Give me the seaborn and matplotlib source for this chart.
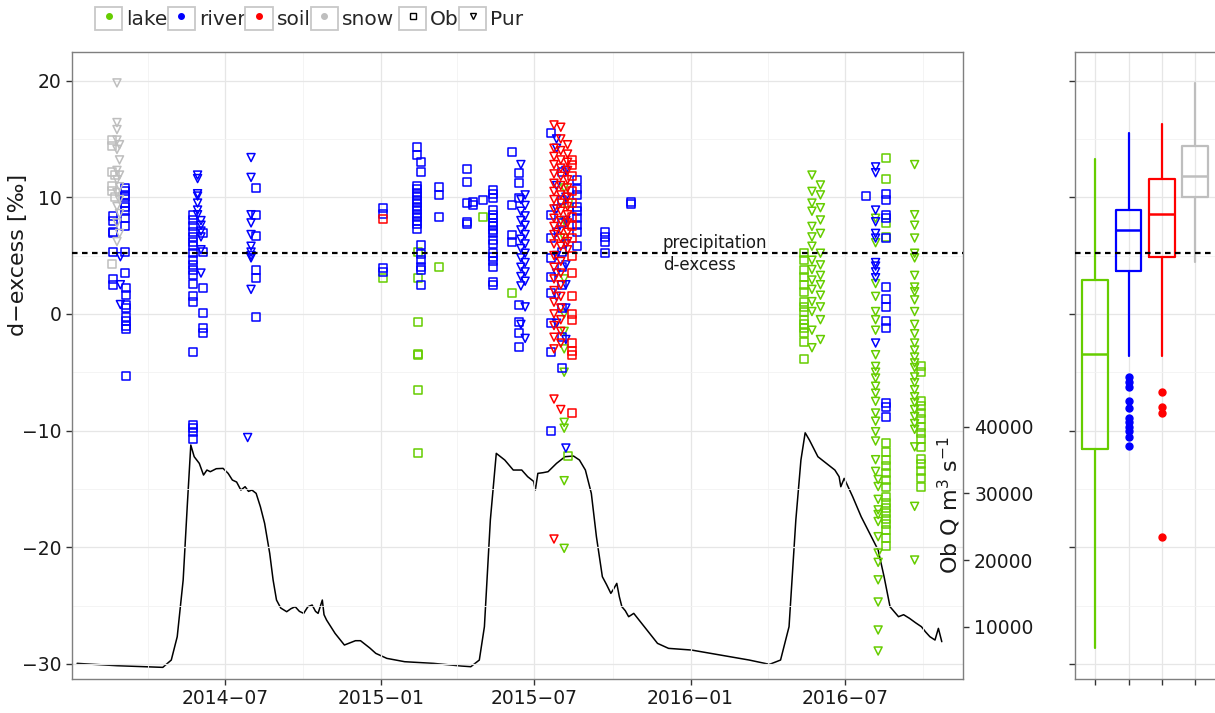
import numpy as np
import pandas as pd
import matplotlib
matplotlib.use("Agg")
import matplotlib.pyplot as plt
import matplotlib.dates as mdates
import matplotlib.transforms as mtransforms
from matplotlib.lines import Line2D
from matplotlib.patches import Rectangle
from matplotlib.legend_handler import HandlerTuple
import seaborn as sns

sns.set_theme(style="white")
plt.rcParams['font.family'] = ['DejaVu Sans']

# ---------------- data ----------------
type_order = ["lake", "river", "soil", "snow"]
site_order = ["Ob", "Pur"]

snow_pur = {
    "2014-02-24": [19.8, 16.4, 15.8, 14.9, 14.1, 12.3, 11.5, 10.4, 9.2, 7.8, 6.2],
    "2014-02-27": [14.5, 13.2, 11.9, 10.9, 9.8, 8.6, 6.9],
}
snow_ob = {
    "2014-02-18": [14.9, 14.4, 12.2, 11.0, 10.5, 4.3],
    "2014-02-22": [11.9, 10.0],
}
river_ob = {
    "2014-02-19": [8.4, 8.0, 7.0, 6.9, 5.3, 3.0, 2.5],
    "2014-03-05": [10.8, 10.5, 10.2, 10.0, 9.5, 9.2, 8.8, 8.2, 7.5, 5.3, 3.5],
    "2014-03-07": [2.2, 1.6, 0.8, 0.5, -0.3, -0.6, -1.0, -1.3, -5.3],
    "2014-05-25": [8.5, 8.05, 7.5, 7.05, 6.6, 6.2, 5.8, 5.2, 4.6, 4.2, 3.8, 3.3, 2.6,
                   1.5, 1.05, -3.3, -9.5, -9.8, -10.1, -10.7],
    "2014-06-05": [6.9, 5.3, 2.2, 0.1, -1.2, -1.6],
    "2014-08-07": [10.8, 8.5, 6.7, 3.8, 3.1, -0.3],
    "2015-01-03": [9.1, 8.6, 3.9, 3.6],
    "2015-02-12": [14.3, 13.6, 11.0, 10.7, 10.4, 10.1, 9.8, 9.5, 9.2, 8.9, 8.6, 8.3, 8.0, 7.7, 7.3],
    "2015-02-17": [13.0, 12.2, 5.9, 5.1, 4.6, 4.0, 3.8, 2.5],
    "2015-03-10": [10.9, 10.2, 8.3],
    "2015-04-13": [12.4, 11.3, 9.5, 7.9, 7.7],
    "2015-04-20": [9.6, 9.3],
    "2015-05-01": [9.8],
    "2015-05-13": [10.6, 10.3, 9.9, 8.9, 8.5, 8.2, 7.8, 7.5, 7.2, 6.9, 6.3, 6.0, 5.2, 4.9,
                   4.5, 4.0, 2.7, 2.5],
    "2015-06-04": [13.9, 9.3, 6.8, 6.2],
    "2015-06-13": [12.1, 11.2, 9.9, 0.8, -0.7, -1.6, -2.8],
    "2015-07-20": [15.5, 8.5, 6.5, 4.8, 3.2, 1.8, -0.8, -3.3, -10.0],
    "2015-08-02": [12.2, 9.8, 7.8, 5.3, 4.0, 2.5, 0.5, -2.0, -4.6],
    "2015-08-20": [11.5, 10.7, 10.2, 9.2, 8.8, 8.2, 7.6, 7.0, 5.8],
    "2015-09-22": [7.0, 6.6, 6.2, 5.2],
    "2015-10-23": [9.6, 9.4],
    "2016-07-26": [10.1],
    "2016-08-18": [10.3, 9.8, 8.5, 8.2, 6.5, 2.3, 1.3, 0.6, -0.6, -1.2, -7.6, -8.0, -8.8],
}
river_pur = {
    "2014-02-28": [4.9, 2.5, 0.8],
    "2014-05-30": [11.9, 11.6, 10.3, 10.1, 9.5, 8.9, 8.5],
    "2014-06-03": [8.0, 7.6, 7.1, 6.6, 5.5, 3.5],
    "2014-07-28": [-10.6],
    "2014-08-01": [13.4, 11.7, 8.5, 7.8, 6.8, 5.8, 5.3, 5.0, 4.8, 2.1],
    "2015-06-15": [12.8, 9.8, 8.8, 8.0, 7.2, 6.4, 5.6, 4.8, 4.0, 3.2, 2.4, -0.9],
    "2015-06-20": [10.2, 9.3, 8.4, 7.6, 6.8, 6.0, 5.2, 4.4, 3.6, 2.8, 0.6, -2.1],
    "2015-07-27": [15.0, 14.2, 11.0, 9.0, 7.0, 5.0, 3.5, 1.5, -0.8],
    "2015-08-07": [12.3, 10.0, 8.0, 6.0, 4.2, 2.5, 0.5, -2.2, -11.5],
    "2016-08-06": [12.6, 12.1, 8.9, 7.9, 6.9, 6.5, 4.4, 4.1, 3.6, 3.1, -2.5],
}
soil_ob = {
    "2015-01-03": [8.1],
    "2015-08-14": [13.2, 12.8, 11.8, 10.5, 9.5, 8.3, 7.5, 6.5, 5.0, 3.5, 1.5, 0.0, -0.5,
                   -2.5, -3.2, -3.5, -8.5],
}
soil_pur = {
    "2015-07-24": [16.2, 14.2, 13.5, 12.8, 12.0, 11.2, 10.5, 9.8, 9.0, 8.2, 7.5, 6.8, 6.0,
                   5.0, 4.0, 3.0, 2.0, 1.0, 0.0, -1.0, -2.0, -3.0, -7.3, -19.3],
    "2015-08-01": [16.0, 15.0, 14.0, 13.2, 12.5, 11.8, 11.0, 10.2, 9.5, 8.8, 8.0, 7.2, 6.5,
                   5.8, 4.5, 3.5, 2.5, 1.5, 0.5, -0.5, -1.5, -2.5, -8.2],
    "2015-08-09": [14.5, 13.7, 13.0, 12.3, 11.5, 10.8, 10.0, 9.2, 8.5, 7.8, 7.0, 6.2, 5.5],
}
lake_ob = {
    "2015-01-03": [3.1],
    "2015-02-14": [5.3, 3.1, -0.7, -3.4, -3.5, -6.5, -11.9],
    "2015-03-10": [4.0],
    "2015-05-01": [8.3],
    "2015-06-04": [1.8],
    "2015-08-10": [9.5, -12.2],
    "2016-05-14": [5.2, 4.6, 3.8, 3.2, 2.5, 1.9, 1.05, 0.6, 0.2, -0.5, -0.9, -1.2, -1.6,
                   -2.4, -3.9],
    "2016-08-18": [13.4, 11.6, 7.8, 6.6, -11.1, -11.8, -12.5, -13.0, -13.6, -14.2, -14.8,
                   -15.7, -16.2, -16.6, -17.1, -17.6, -18.0, -18.5, -19.2, -19.9],
    "2016-09-29": [-4.5, -5.0, -7.5, -7.9, -8.5, -9.0, -9.7, -10.2, -10.7, -11.4, -12.4,
                   -12.9, -13.5, -14.1, -14.8],
}
lake_pur = {
    "2015-08-05": [10.8, 8.0, 6.5, 3.0, 0.0, -1.5, -3.0, -5.0, -9.3, -9.8, -14.3, -20.1],
    "2016-05-23": [11.9, 10.5, 9.5, 8.8, 7.5, 6.6, 5.8, 4.6, 3.8, 2.9, 2.1, 1.05, 0.2, -1.4, -2.9],
    "2016-06-02": [11.05, 10.2, 9.1, 8.05, 6.9, 5.2, 4.2, 3.3, 2.5, 1.6, 0.6, -0.5, -2.2],
    "2016-08-06": [8.2, 6.1, 2.6, 1.5, 0.2, -0.5, -1.4, -3.5, -4.5, -5.0, -5.5, -6.2, -6.8,
                   -7.5, -8.5, -9.2, -10.1, -10.9, -12.5, -13.5],
    "2016-08-09": [-14.2, -14.8, -15.9, -16.8, -17.2, -17.8, -19.1, -20.5, -21.3, -22.8,
                   -24.7, -27.1, -28.9],
    "2016-09-21": [12.8, 8.5, 7.6, 6.5, 5.2, 4.8, 3.3, 2.3, 1.9, 1.2, 0.2, -0.9, -1.7, -2.5,
                   -3.1, -3.7, -4.2, -4.6, -5.4, -5.9, -6.5, -7.1, -7.6, -8.2, -8.8, -9.4,
                   -9.9, -11.4, -16.5, -21.1],
}

# Ob river discharge (days after 2014-07-01, m3/s)
q_day = [-174, -127, -73, -63, -56, -49, -44, -40, -36, -30, -25, -21, -17, -10, -2, 4, 9,
         14, 19, 24, 28, 32, 37, 42, 47, 53, 57, 61, 66, 73, 78, 83, 88, 93, 98, 103, 107,
         110, 113, 115, 117, 120, 130, 141, 148, 154, 160, 164, 171, 178, 191, 212, 246, 279,
         290, 300, 306, 313, 320, 330, 340, 350, 357, 364, 366, 369, 375, 381, 391, 401, 411,
         418, 425, 432, 438, 445, 450, 455, 458, 462, 465, 468, 472, 476, 482, 496, 510, 523,
         550, 584, 618, 642, 655, 665, 673, 679, 684, 689, 699, 709, 719, 724, 726, 730, 740,
         750, 760, 770, 777, 784, 794, 800, 807, 814, 821, 826, 831, 837, 841, 845]
q_val = [4500, 4150, 3900, 5000, 8500, 17000, 28500, 37250, 35500, 34500, 32750, 33500,
         33250, 33700, 33750, 33000, 32000, 31700, 30500, 31000, 30300, 30500, 30000, 28000,
         25500, 21000, 17000, 14000, 12800, 12250, 12700, 13000, 12300, 12000, 13000, 13250,
         12300, 12000, 13200, 14000, 11800, 11000, 9000, 7250, 7600, 7900, 7900, 7500, 6800,
         6000, 5250, 4750, 4500, 4100, 4000,
         5000, 10000, 26000, 36000, 35000, 33500, 33500, 32500, 31800, 30500, 33000, 33100,
         33250, 34500, 35500, 35600, 35000, 33500, 30000, 23500, 17500, 16300, 15000, 15600,
         16500, 14500, 13000, 12400, 11500, 12000, 9750, 7500, 6750, 6500, 5750, 5000, 4350,
         5000, 10000, 26000, 35000, 39100, 38000, 35500, 34500, 33500, 32500, 31000, 32250,
         29500, 26500, 24000, 21500, 17500, 13000, 11500, 11800, 11250, 10600, 10000, 9200,
         8500, 8000, 9750, 7750]

# box plot summary (right panel)
box_q1 = [-11.6, 3.7, 4.9, 10.0]
box_med = [-3.4, 7.2, 8.6, 11.8]
box_q3 = [2.9, 8.9, 11.6, 14.4]
box_lo = [-28.6, -3.6, -3.6, 4.45]
box_hi = [13.3, 15.5, 16.3, 19.8]
box_out = [[], [-5.45, -5.8, -6.25, -7.45, -8.05, -8.9, -9.3, -9.7, -10.05, -10.55, -11.3],
           [-6.7, -8.0, -8.5, -19.1], []]

precip_dexcess = 5.2

# ---------------- build frame ----------------
type_colors = {"lake": "#66CD00", "river": "#0000FF", "soil": "#FF0000", "snow": "#BEBEBE"}
site_markers = {"Ob": "s", "Pur": "v"}
series = {("snow", "Pur"): snow_pur, ("snow", "Ob"): snow_ob,
          ("river", "Ob"): river_ob, ("river", "Pur"): river_pur,
          ("soil", "Ob"): soil_ob, ("soil", "Pur"): soil_pur,
          ("lake", "Ob"): lake_ob, ("lake", "Pur"): lake_pur}
rows = []
for (t, s), dd in series.items():
    for date, vals in dd.items():
        for v in vals:
            rows.append((t, s, pd.Timestamp(date), v))
df = pd.DataFrame(rows, columns=["type", "site", "date", "dexcess"])

qdf = pd.DataFrame({"date": pd.Timestamp("2014-07-01") + pd.to_timedelta(q_day, unit="D"),
                    "Q": q_val})

# ---------------- figure ----------------
W, H = 1215, 713
fig = plt.figure(figsize=(W / 100, H / 100), dpi=100)
top, bot = 52, 679
ax = fig.add_axes([72 / W, 1 - bot / H, (963 - 72) / W, (bot - top) / H])
axb = fig.add_axes([1075 / W, 1 - bot / H, 142 / W, (bot - top) / H])
ax2 = ax.twinx()

border = "#7F7F7F"
gmaj = "#E6E6E6"
gmin = "#F2F2F2"
tickc = "#333333"

ylim = (-31.3, 22.45)

# discharge line (behind the points)
sns.lineplot(data=qdf, x="date", y="Q", ax=ax2, color="black", linewidth=1.1,
             estimator=None, sort=False, legend=False)
ax2.set_ylim(2155, 96205)
ax2.set_yticks([10000, 20000, 30000, 40000])
ax2.set_ylabel("")
for sp in ax2.spines.values():
    sp.set_visible(False)
ax2.tick_params(axis="y", right=True, direction="out", length=4, width=1,
                color=tickc, labelsize=13.5, pad=4, labelcolor="#1A1A1A")
ax2.grid(False)

ax.set_zorder(ax2.get_zorder() + 1)
ax.patch.set_visible(False)

# scatter points
for t in type_order:
    sub = df[df["type"] == t]
    c = type_colors[t]
    sns.scatterplot(data=sub, x="date", y="dexcess", style="site", markers=site_markers,
                    style_order=site_order, color=c, facecolor="none", edgecolor=c,
                    linewidth=1.1, s=33, ax=ax, legend=False, zorder=3)

ax.axhline(precip_dexcess, color="black", ls=(0, (2.5, 2)), lw=1.6, zorder=4)
blend = mtransforms.blended_transform_factory(ax.transAxes, ax.transData)
ax.text(0.663, 6.05, "precipitation", transform=blend, ha="left", va="center",
        fontsize=12, color="#1A1A1A", zorder=5)
ax.text(0.663, 4.15, "d-excess", transform=blend, ha="left", va="center",
        fontsize=12, color="#1A1A1A", zorder=5)

ax.set_xlim(pd.Timestamp("2014-01-02"), pd.Timestamp("2016-11-17"))
ax.set_ylim(*ylim)
ax.set_yticks([-30, -20, -10, 0, 10, 20])
ax.set_yticks([-25, -15, -5, 5, 15], minor=True)
ax.set_yticklabels(["\u221230", "\u221220", "\u221210", "0", "10", "20"])
ax.xaxis.set_major_locator(mdates.MonthLocator(bymonth=[1, 7]))
ax.xaxis.set_minor_locator(mdates.MonthLocator(bymonth=[4, 10]))
ax.xaxis.set_major_formatter(mdates.DateFormatter("%Y\u2212%m"))
ax.set_xlabel("")
ax.set_ylabel("")
ax.grid(which="major", color=gmaj, lw=0.9)
ax.grid(which="minor", color=gmin, lw=0.6)
ax.set_axisbelow(True)
ax.tick_params(axis="both", which="major", direction="out", length=4, width=1,
               color=tickc, labelsize=13.5, labelcolor="#1A1A1A", left=True, bottom=True)
ax.tick_params(axis="x", pad=3)
ax.tick_params(which="minor", length=0)
for sp in ax.spines.values():
    sp.set_color(border)
    sp.set_linewidth(1.0)

ax.text(0.985, 0.2775, "Ob Q m$^3$ s$^{-1}$", transform=ax.transAxes, rotation=90,
        ha="center", va="center", fontsize=16, color="#1A1A1A", zorder=5)
fig.text(18 / W, 1 - 255 / H, "d\u2212excess [\u2030]", rotation=90, ha="center",
         va="center", fontsize=16, color="#1A1A1A")

# ---------------- right panel: box plots ----------------
stats = []
for i, t in enumerate(type_order):
    stats.append(dict(label=t, med=box_med[i], q1=box_q1[i], q3=box_q3[i],
                      whislo=box_lo[i], whishi=box_hi[i], fliers=box_out[i]))
for i, t in enumerate(type_order):
    c = type_colors[t]
    axb.bxp([stats[i]], positions=[i], widths=0.77, showfliers=True, patch_artist=False,
            boxprops=dict(color=c, lw=1.6), medianprops=dict(color=c, lw=1.8),
            whiskerprops=dict(color=c, lw=1.6), capprops=dict(lw=0),
            flierprops=dict(marker="o", markerfacecolor=c, markeredgecolor=c,
                            markersize=5, linestyle="none"))
axb.axhline(precip_dexcess, color="black", ls=(0, (2.5, 2)), lw=1.6, zorder=4)
axb.set_xlim(-0.606, 3.65)
axb.set_ylim(*ylim)
axb.set_xticks([0, 1, 2, 3])
axb.set_xticklabels([])
axb.set_yticks([-30, -20, -10, 0, 10, 20])
axb.set_yticks([-25, -15, -5, 5, 15], minor=True)
axb.set_yticklabels([])
axb.grid(which="major", color=gmaj, lw=0.9)
axb.grid(which="minor", axis="y", color=gmin, lw=0.6)
axb.set_axisbelow(True)
axb.tick_params(axis="both", which="major", direction="out", length=4, width=1,
                color=tickc, left=True, bottom=True)
axb.tick_params(which="minor", length=0)
for sp in axb.spines.values():
    sp.set_color(border)
    sp.set_linewidth(1.0)

# ---------------- legends ----------------
def keybox():
    return Rectangle((0, 0), 1, 1, facecolor="white", edgecolor="#C8C8C8", lw=1.3)

type_handles = [(keybox(), Line2D([], [], ls="", marker="o", ms=4, color=type_colors[t]))
                for t in type_order]
site_handles = [(keybox(), Line2D([], [], ls="", marker=site_markers[s], ms=5,
                                  mfc="none", mec="black", mew=1.0)) for s in site_order]
common = dict(handler_map={tuple: HandlerTuple(ndivide=1)}, loc="upper left",
              frameon=False, handlelength=1.35, handleheight=1.35, handletextpad=0.2,
              columnspacing=0.0, fontsize=14.5, borderpad=0, borderaxespad=0)
leg1 = fig.legend(type_handles, type_order, ncol=4,
                  bbox_to_anchor=(95 / W, 1 - 7 / H), **common)
leg2 = fig.legend(site_handles, site_order, ncol=2,
                  bbox_to_anchor=(399 / W, 1 - 7 / H), **common)

fig.savefig("out.png", dpi=100)
